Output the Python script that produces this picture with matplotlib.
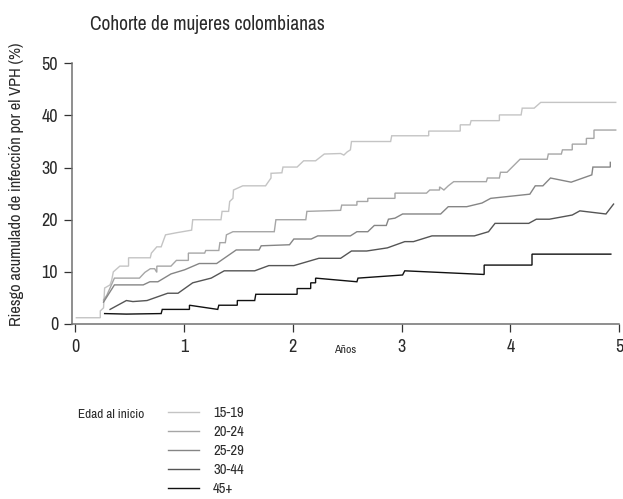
import matplotlib
matplotlib.use("Agg")
import matplotlib.pyplot as plt

plt.rcParams['font.family'] = ['Archivo Narrow', 'Liberation Sans', 'DejaVu Sans']

title = "Cohorte de mujeres colombianas"
ylabel = "Riesgo acumulado de infección por el VPH (%)"
xlabel = "Años"
legend_title = "Edad al inicio"
groups = ["15-19", "20-24", "25-29", "30-44", "45+"]
colors = ["#c4c4c4", "#a6a6a6", "#858585", "#555555", "#111111"]

x_15 = [0.01, 0.23, 0.23, 0.26, 0.27, 0.32, 0.335, 0.35, 0.41, 0.49, 0.49, 0.69, 0.70, 0.75, 0.79, 0.83, 0.93,
        1.07, 1.08, 1.34, 1.35, 1.41, 1.42, 1.45, 1.455, 1.54, 1.75, 1.80, 1.80, 1.90, 1.91, 2.04, 2.10, 2.21,
        2.29, 2.44, 2.47, 2.50, 2.53, 2.54, 2.90, 2.91, 3.25, 3.25, 3.54, 3.54, 3.63, 3.64, 3.90, 3.90, 4.10,
        4.11, 4.22, 4.28, 4.97]
y_15 = [1.2, 1.2, 2.5, 3.1, 6.9, 7.5, 8.4, 10.0, 11.1, 11.1, 12.7, 12.7, 13.6, 14.8, 14.8, 17.1, 17.5,
        18.0, 20.0, 20.0, 21.6, 21.6, 23.5, 24.1, 25.7, 26.5, 26.5, 28.0, 28.9, 29.0, 30.1, 30.1, 31.3, 31.3,
        32.6, 32.7, 32.4, 33.0, 33.4, 35.0, 35.0, 36.1, 36.1, 37.0, 37.0, 38.2, 38.2, 39.0, 39.0, 40.1, 40.1,
        41.4, 41.4, 42.5, 42.5]

x_20 = [0.26, 0.29, 0.36, 0.59, 0.64, 0.69, 0.73, 0.75, 0.75, 0.88, 0.93, 1.04, 1.04, 1.19, 1.20, 1.32, 1.33,
        1.38, 1.39, 1.45, 1.83, 1.845, 2.12, 2.13, 2.44, 2.45, 2.59, 2.59, 2.69, 2.69, 2.94, 2.94, 3.23, 3.26,
        3.35, 3.35, 3.39, 3.43, 3.48, 3.78, 3.79, 3.90, 3.91, 3.97, 4.09, 4.34, 4.35, 4.47, 4.48, 4.57, 4.57,
        4.70, 4.70, 4.77, 4.77, 4.97]
y_20 = [4.6, 5.5, 8.8, 8.8, 9.9, 10.6, 10.6, 9.9, 11.1, 11.1, 12.2, 12.2, 13.6, 13.6, 14.1, 14.1, 15.6,
        15.6, 17.1, 17.7, 17.7, 20.0, 20.0, 21.6, 21.8, 22.8, 22.8, 23.5, 23.5, 24.1, 24.1, 25.1, 25.1, 25.7,
        25.7, 26.3, 25.7, 26.5, 27.3, 27.3, 28.0, 28.0, 29.1, 29.1, 31.6, 31.6, 32.6, 32.6, 33.4, 33.4, 34.5,
        34.5, 35.6, 35.6, 37.2, 37.2]

x_25 = [0.26, 0.36, 0.625, 0.686, 0.76, 0.88, 1.006, 1.14, 1.30, 1.48, 1.69, 1.71, 1.97, 2.01, 2.17, 2.23,
        2.53, 2.59, 2.69, 2.75, 2.86, 2.88, 2.94, 3.01, 3.36, 3.43, 3.60, 3.74, 3.82, 4.18, 4.23, 4.30, 4.37,
        4.56, 4.75, 4.76, 4.92, 4.92]
y_25 = [4.2, 7.5, 7.5, 8.1, 8.1, 9.6, 10.4, 11.6, 11.6, 14.2, 14.2, 15.0, 15.2, 16.3, 16.3, 16.9,
        16.9, 17.7, 17.7, 18.9, 18.9, 20.1, 20.3, 21.1, 21.1, 22.5, 22.5, 23.2, 24.1, 24.9, 26.5, 26.5, 28.0,
        27.2, 28.6, 30.1, 30.1, 31.0]

x_30 = [0.32, 0.47, 0.53, 0.66, 0.85, 0.945, 1.08, 1.25, 1.37, 1.65, 1.78, 2.01, 2.24, 2.44, 2.54, 2.68,
        2.87, 3.03, 3.11, 3.28, 3.67, 3.80, 3.86, 4.17, 4.24, 4.36, 4.57, 4.64, 4.88, 4.95]
y_30 = [2.8, 4.5, 4.3, 4.5, 5.9, 5.9, 7.9, 8.8, 10.2, 10.2, 11.2, 11.2, 12.6, 12.6, 14.0, 14.0,
        14.6, 15.8, 15.8, 16.9, 16.9, 17.7, 19.3, 19.3, 20.1, 20.1, 20.9, 21.7, 21.1, 23.0]

x_45 = [0.27, 0.47, 0.79, 0.80, 1.05, 1.05, 1.31, 1.32, 1.49, 1.49, 1.65, 1.66, 2.04, 2.04, 2.165, 2.165,
        2.21, 2.21, 2.59, 2.60, 3.01, 3.03, 3.76, 3.76, 4.20, 4.20, 4.925]
y_45 = [2.0, 1.9, 2.0, 2.8, 2.8, 3.6, 2.8, 3.6, 3.6, 4.5, 4.5, 5.7, 5.7, 6.8, 6.8, 7.9,
        7.9, 8.8, 8.1, 8.8, 9.4, 10.2, 9.5, 11.3, 11.3, 13.4, 13.4]

series_x = [x_15, x_20, x_25, x_30, x_45]
series_y = [y_15, y_20, y_25, y_30, y_45]

x_ticks = [0, 1, 2, 3, 4, 5]
y_ticks = [0, 10, 20, 30, 40, 50]

W, H = 623, 499
fig = plt.figure(figsize=(W / 100, H / 100), dpi=100)
ax_l, ax_r, ax_t, ax_b = 72, 619, 63.3, 324
ax = fig.add_axes([ax_l / W, 1 - ax_b / H, (ax_r - ax_l) / W, (ax_b - ax_t) / H])

handles = []
for xs, ys, c, g in zip(series_x, series_y, colors, groups):
    h, = ax.plot(xs, ys, color=c, lw=1.0, label=g, solid_joinstyle='miter')
    handles.append(h)

txt_color = '#2a2a2a'
ax.set_xlim(-0.03, 5.0)
ax.set_ylim(0, 50)
ax.set_xticks(x_ticks)
ax.set_yticks(y_ticks)
for s in ['top', 'right']:
    ax.spines[s].set_visible(False)
for s in ['left', 'bottom']:
    ax.spines[s].set_color('#707070')
    ax.spines[s].set_linewidth(1.1)
ax.tick_params(axis='both', direction='out', length=6, width=0.9, color='#333333',
               labelsize=13, labelcolor=txt_color, pad=4)
ax.tick_params(axis='x', pad=5)

ax.set_xlabel(xlabel, fontsize=8.5, color=txt_color)
ax.xaxis.set_label_coords(0.5, -0.08)

fig.text(17 / W, 1 - 184 / H, ylabel, rotation=90, ha='center', va='center',
         fontsize=11.8, color=txt_color)
fig.text(90 / W, 1 - 25 / H, title, ha='left', va='center', fontsize=14, color=txt_color)

fig.text(78 / W, 1 - 415 / H, legend_title, ha='left', va='center', fontsize=9.5, color=txt_color)
leg = fig.legend(handles=handles, labels=groups, loc='upper left',
                 bbox_to_anchor=(168 / W, 1 - 406 / H), frameon=False,
                 fontsize=10.5, handlelength=2.1, handletextpad=1.0, labelspacing=0.34,
                 borderpad=0, borderaxespad=0)
for t in leg.get_texts():
    t.set_color(txt_color)

fig.savefig("out.png", dpi=100)
